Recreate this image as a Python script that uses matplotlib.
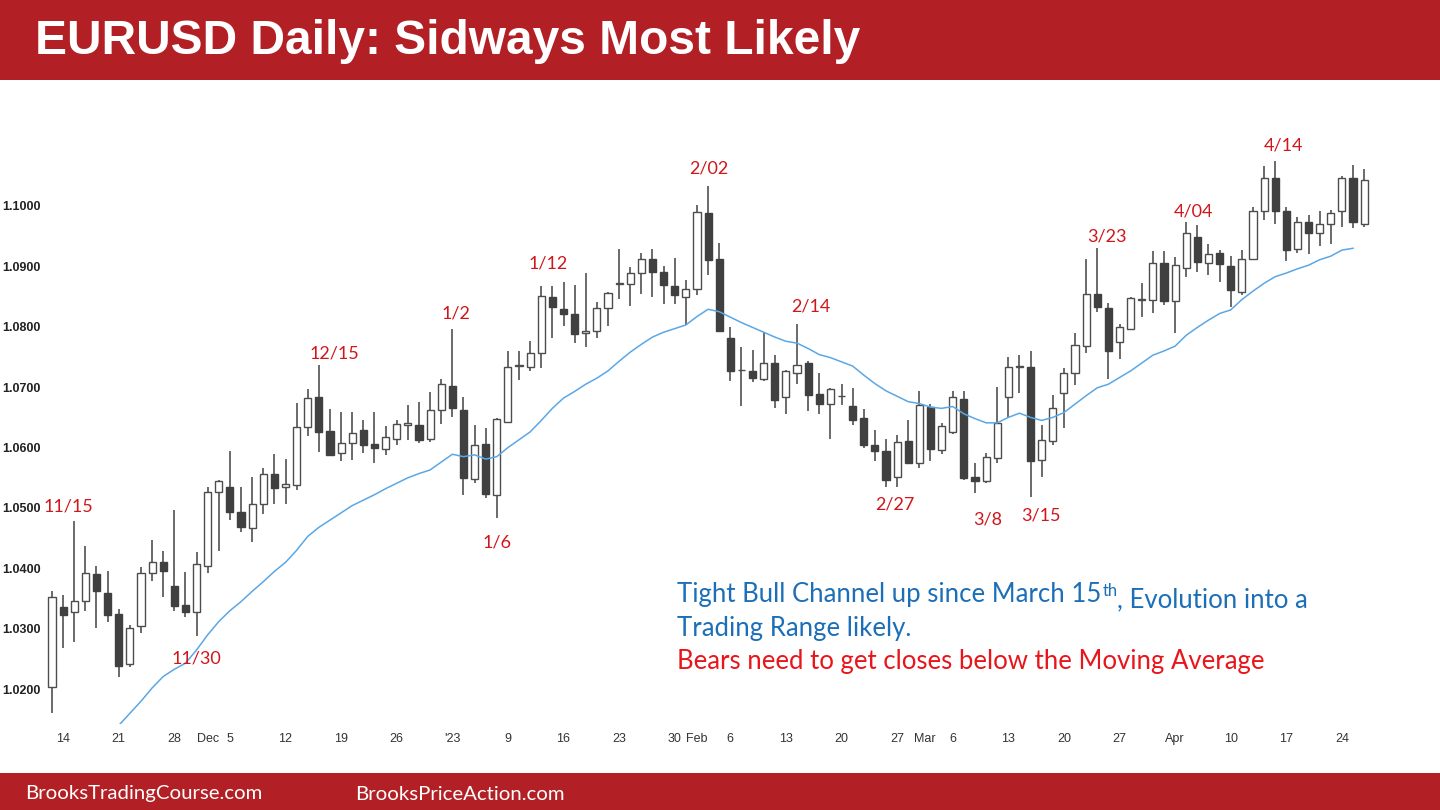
import matplotlib
matplotlib.use("Agg")
import matplotlib.pyplot as plt
import matplotlib.patches as patches
import numpy as np
import pandas as pd

# daily bars, Nov 11 2022 .. Apr 26 2023 (all weekdays)
dates = pd.bdate_range("2022-11-11", "2023-04-26")

opens = [1.0203, 1.0336, 1.0328, 1.0346, 1.0390, 1.0359, 1.0324, 1.0241, 1.0304, 1.0393,
         1.0411, 1.0371, 1.0340, 1.0327, 1.0404, 1.0526, 1.0534, 1.0494, 1.0467, 1.0507,
         1.0556, 1.0535, 1.0538, 1.0634, 1.0684, 1.0627, 1.0591, 1.0608, 1.0629, 1.0606,
         1.0598, 1.0614, 1.0637, 1.0638, 1.0614, 1.0662, 1.0702, 1.0662, 1.0548, 1.0606,
         1.0522, 1.0643, 1.0735, 1.0734, 1.0756, 1.0850, 1.0830, 1.0822, 1.0789, 1.0793,
         1.0831, 1.0871, 1.0871, 1.0889, 1.0913, 1.0891, 1.0867, 1.0850, 1.0863, 1.0988,
         1.0912, 1.0782, 1.0728, 1.0727, 1.0713, 1.0740, 1.0683, 1.0723, 1.0740, 1.0689,
         1.0673, 1.0685, 1.0669, 1.0649, 1.0605, 1.0595, 1.0551, 1.0611, 1.0575, 1.0667,
         1.0596, 1.0626, 1.0680, 1.0552, 1.0545, 1.0582, 1.0683, 1.0734, 1.0733, 1.0580,
         1.0611, 1.0690, 1.0723, 1.0768, 1.0855, 1.0831, 1.0775, 1.0797, 1.0844, 1.0844,
         1.0906, 1.0842, 1.0898, 1.0949, 1.0905, 1.0923, 1.0901, 1.0858, 1.0912, 1.0992,
         1.1046, 1.0991, 1.0928, 1.0973, 1.0956, 1.0970, 1.0991, 1.1046, 1.0971]
highs = [1.0362, 1.0356, 1.0479, 1.0437, 1.0404, 1.0396, 1.0332, 1.0307, 1.0403, 1.0447,
         1.0428, 1.0497, 1.0394, 1.0427, 1.0535, 1.0547, 1.0595, 1.0534, 1.0551, 1.0567,
         1.0589, 1.0581, 1.0674, 1.0697, 1.0737, 1.0664, 1.0659, 1.0659, 1.0645, 1.0659,
         1.0635, 1.0646, 1.0671, 1.0675, 1.0692, 1.0714, 1.0796, 1.0683, 1.0638, 1.0632,
         1.0649, 1.0760, 1.0760, 1.0776, 1.0868, 1.0868, 1.0874, 1.0870, 1.0889, 1.0841,
         1.0858, 1.0928, 1.0899, 1.0923, 1.0929, 1.0900, 1.0914, 1.0877, 1.1002, 1.1033,
         1.0939, 1.0799, 1.0767, 1.0762, 1.0792, 1.0753, 1.0729, 1.0804, 1.0744, 1.0723,
         1.0699, 1.0705, 1.0698, 1.0664, 1.0629, 1.0615, 1.0621, 1.0646, 1.0693, 1.0673,
         1.0640, 1.0694, 1.0694, 1.0574, 1.0591, 1.0701, 1.0750, 1.0753, 1.0760, 1.0637,
         1.0687, 1.0731, 1.0789, 1.0913, 1.0930, 1.0839, 1.0804, 1.0849, 1.0872, 1.0926,
         1.0926, 1.0916, 1.0974, 1.0969, 1.0937, 1.0927, 1.0917, 1.0927, 1.0999, 1.1066,
         1.1075, 1.0999, 1.0982, 1.0985, 1.0991, 1.0994, 1.1050, 1.1068, 1.1062]
lows = [1.0161, 1.0268, 1.0278, 1.0329, 1.0302, 1.0312, 1.0221, 1.0236, 1.0293, 1.0379,
        1.0352, 1.0329, 1.0319, 1.0288, 1.0392, 1.0429, 1.0480, 1.0460, 1.0443, 1.0490,
        1.0506, 1.0506, 1.0529, 1.0620, 1.0592, 1.0586, 1.0577, 1.0580, 1.0591, 1.0574,
        1.0587, 1.0605, 1.0612, 1.0607, 1.0610, 1.0639, 1.0651, 1.0522, 1.0541, 1.0516,
        1.0484, 1.0641, 1.0712, 1.0726, 1.0731, 1.0781, 1.0802, 1.0774, 1.0766, 1.0782,
        1.0801, 1.0846, 1.0835, 1.0855, 1.0850, 1.0838, 1.0838, 1.0803, 1.0852, 1.0885,
        1.0792, 1.0710, 1.0669, 1.0709, 1.0710, 1.0666, 1.0655, 1.0706, 1.0661, 1.0655,
        1.0614, 1.0670, 1.0637, 1.0599, 1.0577, 1.0535, 1.0534, 1.0574, 1.0566, 1.0577,
        1.0589, 1.0622, 1.0546, 1.0525, 1.0541, 1.0574, 1.0651, 1.0690, 1.0519, 1.0552,
        1.0605, 1.0632, 1.0704, 1.0757, 1.0825, 1.0713, 1.0746, 1.0795, 1.0817, 1.0823,
        1.0836, 1.0789, 1.0883, 1.0891, 1.0886, 1.0875, 1.0832, 1.0853, 1.0910, 1.0977,
        1.0971, 1.0909, 1.0922, 1.0920, 1.0933, 1.0937, 1.0965, 1.0963, 1.0965]
closes = [1.0353, 1.0323, 1.0346, 1.0392, 1.0362, 1.0323, 1.0238, 1.0302, 1.0393, 1.0411,
          1.0396, 1.0338, 1.0328, 1.0407, 1.0526, 1.0544, 1.0493, 1.0468, 1.0507, 1.0556,
          1.0533, 1.0539, 1.0634, 1.0682, 1.0626, 1.0588, 1.0607, 1.0624, 1.0604, 1.0600,
          1.0617, 1.0639, 1.0641, 1.0612, 1.0662, 1.0705, 1.0666, 1.0550, 1.0604, 1.0524,
          1.0647, 1.0734, 1.0736, 1.0756, 1.0851, 1.0832, 1.0821, 1.0788, 1.0793, 1.0831,
          1.0856, 1.0872, 1.0889, 1.0913, 1.0891, 1.0869, 1.0852, 1.0862, 1.0990, 1.0911,
          1.0793, 1.0727, 1.0728, 1.0715, 1.0740, 1.0678, 1.0726, 1.0736, 1.0687, 1.0673,
          1.0697, 1.0686, 1.0646, 1.0605, 1.0594, 1.0546, 1.0610, 1.0575, 1.0671, 1.0598,
          1.0635, 1.0683, 1.0550, 1.0545, 1.0584, 1.0640, 1.0733, 1.0735, 1.0577, 1.0613,
          1.0665, 1.0723, 1.0770, 1.0855, 1.0832, 1.0760, 1.0799, 1.0847, 1.0845, 1.0906,
          1.0843, 1.0903, 1.0956, 1.0908, 1.0921, 1.0904, 1.0861, 1.0912, 1.0992, 1.1047,
          1.0992, 1.0927, 1.0974, 1.0956, 1.0970, 1.0988, 1.1046, 1.0973, 1.1043]

# moving average (first 6 bars off-screen, last bar not drawn)
nan = np.nan
ma = [nan, nan, nan, nan, nan, nan,
      1.0140, 1.0160, 1.0180, 1.0202, 1.0221, 1.0233, 1.0243, 1.0265, 1.0290, 1.0312,
      1.0330, 1.0345, 1.0362, 1.0378, 1.0395, 1.0410, 1.0430, 1.0453, 1.0468, 1.0480,
      1.0492, 1.0504, 1.0513, 1.0522, 1.0532, 1.0541, 1.0550, 1.0557, 1.0563, 1.0576,
      1.0589, 1.0585, 1.0588, 1.0581, 1.0585, 1.0600, 1.0613, 1.0626, 1.0645, 1.0665,
      1.0682, 1.0693, 1.0705, 1.0715, 1.0727, 1.0743, 1.0758, 1.0771, 1.0783, 1.0791,
      1.0797, 1.0803, 1.0817, 1.0829, 1.0825, 1.0816, 1.0807, 1.0799, 1.0791, 1.0783,
      1.0776, 1.0773, 1.0764, 1.0754, 1.0749, 1.0742, 1.0735, 1.0720, 1.0706, 1.0694,
      1.0685, 1.0676, 1.0673, 1.0667, 1.0665, 1.0668, 1.0656, 1.0648, 1.0641, 1.0641,
      1.0650, 1.0657, 1.0650, 1.0645, 1.0650, 1.0658, 1.0672, 1.0686, 1.0699, 1.0705,
      1.0716, 1.0727, 1.0740, 1.0753, 1.0760, 1.0768, 1.0786, 1.0799, 1.0811, 1.0822,
      1.0828, 1.0845, 1.0859, 1.0872, 1.0883, 1.0889, 1.0896, 1.0902, 1.0911, 1.0917,
      1.0927, 1.0930, nan]

# x axis labels (Mondays) and month names
tick_days = ["2022-11-14", "2022-11-21", "2022-11-28", "2022-12-05", "2022-12-12",
             "2022-12-19", "2022-12-26", "2023-01-02", "2023-01-09", "2023-01-16",
             "2023-01-23", "2023-01-30", "2023-02-06", "2023-02-13", "2023-02-20",
             "2023-02-27", "2023-03-06", "2023-03-13", "2023-03-20", "2023-03-27",
             "2023-04-03", "2023-04-10", "2023-04-17", "2023-04-24"]
tick_labels = ["14", "21", "28", "5", "12", "19", "26", "'23", "9", "16", "23", "30",
               "6", "13", "20", "27", "6", "13", "20", "27", "Apr", "10", "17", "24"]
month_days = ["2022-12-01", "2023-02-01", "2023-03-01"]
month_labels = ["Dec", "Feb", "Mar"]

# swing labels: text, bar date, above/below
swing_labels = ["11/15", "11/30", "12/15", "1/2", "1/6", "1/12", "2/02", "2/14",
                "2/27", "3/8", "3/15", "3/23", "4/04", "4/14"]
swing_days = ["2022-11-15", "2022-11-30", "2022-12-15", "2023-01-02", "2023-01-06",
              "2023-01-12", "2023-02-02", "2023-02-14", "2023-02-27", "2023-03-08",
              "2023-03-15", "2023-03-23", "2023-04-04", "2023-04-14"]
swing_side = ["high", "low", "high", "high", "low", "high", "high", "high",
              "low", "low", "low", "high", "high", "high"]
# pixel offsets of the label centre from the bar extreme
swing_off = [(-6, 14), (0, -22), (16, 11), (4, 16), (0, -25), (7, 22), (1, 18), (14, 18),
             (-2, -17), (13, -27), (10, -19), (10, 12), (7, 10), (8, 15)]

RED = "#B22025"
W, H = 1440, 810

fig = plt.figure(figsize=(14.4, 8.1), dpi=100)
fig.patch.set_facecolor("white")

# header / footer bars
fig.patches.append(patches.Rectangle((0, 1 - 80 / H), 1, 80 / H, transform=fig.transFigure,
                                     facecolor=RED, edgecolor="none", zorder=0))
fig.patches.append(patches.Rectangle((0, 0), 1, 37 / H, transform=fig.transFigure,
                                     facecolor=RED, edgecolor="none", zorder=0))
fig.text(35 / W, 1 - 42 / H, "EURUSD Daily: Sidways Most Likely", color="white",
         fontsize=34.5, fontweight="bold", family="Liberation Sans", va="center", ha="left")
fig.text(25 / W, 16 / H, "BrooksTradingCourse.com", color="white", fontsize=14.7,
         family="Lato", va="center", ha="left")
fig.text(355 / W, 16 / H, "BrooksPriceAction.com", color="white", fontsize=14.7,
         family="Lato", va="center", ha="left")

# chart axes
ax_l, ax_r, ax_t, ax_b = 45, 1390, 100, 724
ax = fig.add_axes([ax_l / W, 1 - ax_b / H, (ax_r - ax_l) / W, (ax_b - ax_t) / H])
ax.set_facecolor("none")

o = np.array(opens)
h = np.array(highs)
l = np.array(lows)
c = np.array(closes)
x = np.arange(len(dates))
step = 11.12
ax.set_xlim((ax_l - 52) / step, (ax_r - 52) / step)
ax.set_ylim(1.1 - (ax_b - 206) / 6040, 1.1 + (206 - ax_t) / 6040)

bull = c >= o
ax.vlines(x, l, h, color="#505050", lw=1.2, zorder=1)
body_lo = np.minimum(o, c)
body_h = np.maximum(np.abs(c - o), 0.00012)
ax.bar(x[bull], body_h[bull], bottom=body_lo[bull], width=0.64,
       facecolor="white", edgecolor="#4d4d4d", linewidth=1.0, zorder=2)
ax.bar(x[~bull], body_h[~bull], bottom=body_lo[~bull], width=0.64,
       facecolor="#404040", edgecolor="#404040", linewidth=1.0, zorder=2)

ax.plot(x, ma, color="#5BA7E6", lw=1.1, zorder=3)

# swing labels
pos = {d: i for i, d in enumerate(dates.strftime("%Y-%m-%d"))}
for txt, d, side, (dx, dy) in zip(swing_labels, swing_days, swing_side, swing_off):
    i = pos[d]
    y = h[i] if side == "high" else l[i]
    ax.annotate(txt, xy=(i, y), xytext=(dx, dy), textcoords="offset pixels",
                ha="center", va="center", color="#D0161B", fontsize=13, family="Lato",
                annotation_clip=False)

# x tick labels
narrow = ["Liberation Sans Narrow", "Liberation Sans"]
ax.set_xticks([pos[d] for d in tick_days])
ax.set_xticklabels(tick_labels)
ax.set_yticks([1.02, 1.03, 1.04, 1.05, 1.06, 1.07, 1.08, 1.09, 1.10])
ax.set_yticklabels(["%.4f" % v for v in ax.get_yticks()])
ax.tick_params(axis="x", length=0, pad=6.5, labelsize=9, labelcolor="#333333")
ax.tick_params(axis="y", length=0, pad=3, labelsize=9, labelcolor="#222222")
for t in ax.get_xticklabels():
    t.set_family(narrow)
for t in ax.get_yticklabels():
    t.set_family("Liberation Sans")
    t.set_fontweight("bold")
month_dx = [0, 0, 4]
for d, m, dx in zip(month_days, month_labels, month_dx):
    ax.annotate(m, xy=(pos[d], 0), xycoords=("data", "axes fraction"),
                xytext=(dx, -6.5), textcoords="offset points", ha="center", va="top",
                fontsize=9, color="#333333", family=narrow, annotation_clip=False)
for s in ax.spines.values():
    s.set_visible(False)

# commentary
BLUE = "#1C6FB7"
FS = 18.5
t1 = fig.text(677 / W, 1 - 602 / H, "Tight Bull Channel up since March 15", color=BLUE,
              fontsize=FS, family="Lato", va="baseline", ha="left")
ax.annotate("th", xy=(1, 0), xycoords=t1, xytext=(1, 11), textcoords="offset pixels",
            color=BLUE, fontsize=12, family="Lato", va="baseline", ha="left",
            annotation_clip=False)
ax.annotate(", Evolution into a", xy=(1, 0), xycoords=t1, xytext=(16, 0),
            textcoords="offset pixels", color=BLUE, fontsize=FS, family="Lato",
            va="baseline", ha="left", annotation_clip=False)
fig.text(677 / W, 1 - 636 / H, "Trading Range likely.", color=BLUE, fontsize=FS,
         family="Lato", va="baseline", ha="left")
fig.text(677 / W, 1 - 669 / H, "Bears need to get closes below the Moving Average",
         color="#E8161B", fontsize=FS, family="Lato", va="baseline", ha="left")

plt.savefig("out.png", dpi=100, facecolor="white")
plt.close()
